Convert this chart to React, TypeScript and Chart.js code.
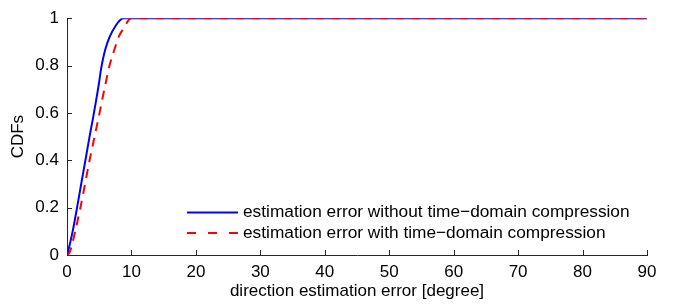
import React, { useEffect, useRef } from "react";
import { Chart, registerables } from "chart.js";

Chart.register(...registerables);

// Blue: estimation error without time-domain compression
const blueX = [0, 0.3, 0.9, 1.56, 2.2, 2.86, 3.5, 4.05, 4.5, 4.93, 5.25, 5.6, 5.96, 6.6, 7.6, 8.3, 8.8, 90];
const blueY = [0, 0.03, 0.103, 0.2, 0.3, 0.4, 0.5, 0.58, 0.65, 0.72, 0.78, 0.83, 0.87, 0.92, 0.97, 0.993, 1, 1];
// Red: estimation error with time-domain compression
const redX = [0, 0.4, 0.68, 1.3, 2.08, 2.8, 3.5, 4.2, 4.9, 5.8, 6.6, 7.4, 8.0, 9.0, 9.5, 9.9, 90];
const redY = [0, 0.01, 0.034, 0.103, 0.2, 0.3, 0.4, 0.49, 0.58, 0.7, 0.8, 0.871, 0.92, 0.967, 0.99, 1, 1];

const seriesLabels = [
  "estimation error without time\u2212domain compression",
  "estimation error with time\u2212domain compression",
];
const xTitle = "direction estimation error [degree]";
const yTitle = "CDFs";

const FONT = "'Liberation Sans', Arial, Helvetica, sans-serif";
const AXIS = "#262626";
const FS = 17;

const toPoints = (xs: number[], ys: number[]) => xs.map((x, i) => ({ x, y: ys[i] }));

const inwardTicks = {
  id: "inwardTicks",
  afterDatasetsDraw(chart: any) {
    const { ctx, chartArea } = chart;
    const xs = chart.scales.x;
    const ys = chart.scales.y;
    ctx.save();
    ctx.strokeStyle = AXIS;
    ctx.lineWidth = 1;
    const len = 5;
    xs.ticks.forEach((t: any) => {
      const px = Math.round(xs.getPixelForValue(t.value)) + 0.5;
      ctx.beginPath();
      ctx.moveTo(px, chartArea.bottom);
      ctx.lineTo(px, chartArea.bottom - len);
      ctx.stroke();
    });
    ys.ticks.forEach((t: any) => {
      const py = Math.round(ys.getPixelForValue(t.value)) + 0.5;
      ctx.beginPath();
      ctx.moveTo(chartArea.left, py);
      ctx.lineTo(chartArea.left + len, py);
      ctx.stroke();
    });
    // legend
    const lx0 = 187;
    const lx1 = 238;
    const rows = [212.5, 233];
    ctx.font = `17.3px ${FONT}`;
    ctx.textBaseline = "middle";
    ctx.textAlign = "left";
    chart.data.datasets.forEach((ds: any, i: number) => {
      const y = rows[i];
      ctx.beginPath();
      ctx.strokeStyle = ds.borderColor;
      ctx.lineWidth = 2;
      ctx.setLineDash(i === 1 ? [9, 12] : []);
      ctx.moveTo(lx0, y);
      ctx.lineTo(lx1, y);
      ctx.stroke();
      ctx.setLineDash([]);
      ctx.fillStyle = "#000";
      ctx.fillText(ds.label, 243, y);
    });
    ctx.restore();
  },
};

export default function App() {
  const ref = useRef<HTMLCanvasElement | null>(null);
  useEffect(() => {
    document.body.style.margin = "0";
    if (!ref.current) return;
    const chart = new Chart(ref.current, {
      type: "line",
      data: {
        datasets: [
          {
            label: seriesLabels[0],
            data: toPoints(blueX, blueY),
            borderColor: "#0000ff",
            borderWidth: 2,
            pointRadius: 0,
            cubicInterpolationMode: "monotone",
            order: 1,
          },
          {
            label: seriesLabels[1],
            data: toPoints(redX, redY),
            borderColor: "#ff0000",
            borderWidth: 2,
            borderDash: [9, 7],
            pointRadius: 0,
            cubicInterpolationMode: "monotone",
            order: 0,
          },
        ],
      },
      options: {
        animation: false,
        responsive: false,
        maintainAspectRatio: false,
        layout: { padding: { top: 12, right: 26, left: 0, bottom: 0 } },
        plugins: { legend: { display: false }, tooltip: { enabled: false } },
        scales: {
          x: {
            type: "linear",
            min: 0,
            max: 90,
            grid: { display: false, drawTicks: false },
            border: { display: true, color: AXIS, width: 1 },
            ticks: {
              stepSize: 10,
              color: "#000",
              font: { family: FONT, size: FS },
              padding: 7,
              maxRotation: 0,
            },
            title: {
              display: true,
              text: xTitle,
              color: "#000",
              font: { family: FONT, size: FS },
              padding: { top: 0, bottom: 4 },
            },
            afterFit: (s: any) => {
              s.height = 51;
            },
          },
          y: {
            min: 0,
            max: 1,
            grid: { display: false, drawTicks: false },
            border: { display: true, color: AXIS, width: 1 },
            ticks: {
              stepSize: 0.2,
              color: "#000",
              font: { family: FONT, size: FS },
              padding: 8,
              callback: (v: any) => String(Math.round(Number(v) * 10) / 10),
            },
            title: {
              display: true,
              text: yTitle,
              color: "#000",
              font: { family: FONT, size: FS },
              padding: { top: 8, bottom: 0 },
            },
            afterFit: (s: any) => {
              s.width = 67;
            },
          },
        },
      },
      plugins: [inwardTicks],
    });
    return () => chart.destroy();
  }, []);
  return (
    <div style={{ position: "absolute", left: 0, top: 0, width: 673, height: 306, background: "#fff" }}>
      <canvas ref={ref} width={673} height={306} style={{ width: 673, height: 306 }} />
    </div>
  );
}
